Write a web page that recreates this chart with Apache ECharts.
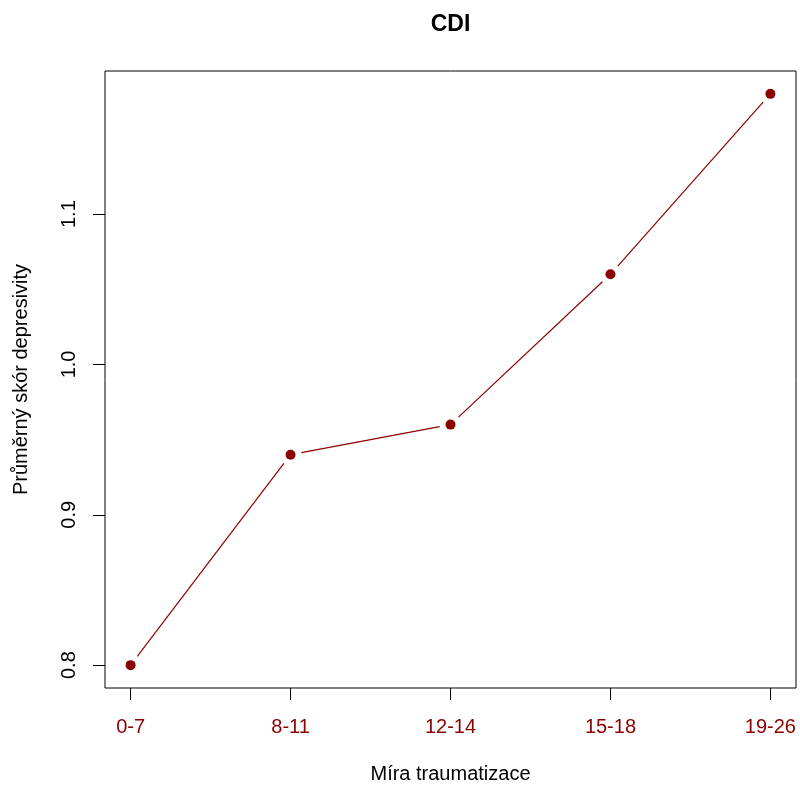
<!DOCTYPE html>
<html>
<head>
<meta charset="utf-8">
<script src="https://cdn.jsdelivr.net/npm/echarts@6/dist/echarts.min.js"></script>
<style>html,body{margin:0;padding:0;background:#fff}#c{width:800px;height:789px}</style>
</head>
<body>
<div id="c"></div>
<script>
const categories = ['0-7', '8-11', '12-14', '15-18', '19-26'];
const values = [0.80, 0.94, 0.96, 1.06, 1.18];
const yTicks = [0.8, 0.9, 1.0, 1.1];

const xs = categories.map((c, i) => i + 1);
const points = values.map((v, i) => [xs[i], v]);
const segments = values.slice(0, -1).map((v, i) => [xs[i], v, xs[i + 1], values[i + 1]]);

const RED = '#8B0000';
const FONT = 'Liberation Sans, Arial, sans-serif';

const chart = echarts.init(document.getElementById('c'), null, {renderer: 'canvas'});
chart.setOption({
  animation: false,
  graphic: [{
    type: 'text', x: 450.5, y: 25,
    style: {text: 'CDI', x: 0, y: 0, align: 'center', verticalAlign: 'middle',
      font: 'bold 23px ' + FONT, fill: '#000'}
  }],
  grid: {left: 105, top: 71, width: 691, height: 618, show: true, borderColor: '#000', borderWidth: 1, backgroundColor: 'transparent'},
  xAxis: {
    type: 'value', min: 0.84, max: 5.16,
    name: 'Míra traumatizace', nameLocation: 'middle', nameGap: 76,
    nameTextStyle: {fontFamily: FONT, fontSize: 20, color: '#000'},
    axisLine: {show: false},
    splitLine: {show: false},
    axisTick: {show: true, length: 12, customValues: xs, lineStyle: {color: '#000'}},
    axisLabel: {customValues: xs, margin: 29, fontFamily: FONT, fontSize: 20, color: RED,
      formatter: v => categories[Math.round(v) - 1] || ''}
  },
  yAxis: {
    type: 'value', min: 0.7848, max: 1.1952,
    name: 'Průměrný skór depresivity', nameLocation: 'middle', nameGap: 74,
    nameTextStyle: {fontFamily: FONT, fontSize: 20, color: '#000'},
    axisLine: {show: false},
    splitLine: {show: false},
    axisTick: {show: true, length: 12, customValues: yTicks, lineStyle: {color: '#000'}},
    axisLabel: {customValues: yTicks, margin: 26, rotate: 90, fontFamily: FONT, fontSize: 20, color: '#000',
      formatter: v => v.toFixed(1)}
  },
  series: [
    {
      type: 'custom',
      data: segments,
      encode: {x: [0, 2], y: [1, 3]},
      renderItem: function (params, api) {
        const p1 = api.coord([api.value(0), api.value(1)]);
        const p2 = api.coord([api.value(2), api.value(3)]);
        const dx = p2[0] - p1[0], dy = p2[1] - p1[1];
        const len = Math.sqrt(dx * dx + dy * dy);
        const gap = 11;
        const ux = dx / len, uy = dy / len;
        return {
          type: 'line',
          shape: {x1: p1[0] + ux * gap, y1: p1[1] + uy * gap, x2: p2[0] - ux * gap, y2: p2[1] - uy * gap},
          style: {stroke: RED, lineWidth: 1.2}
        };
      },
      z: 2
    },
    {
      type: 'scatter',
      data: points,
      symbol: 'circle',
      symbolSize: 10,
      itemStyle: {color: RED, opacity: 1},
      z: 3
    }
  ]
});
</script>
</body>
</html>
